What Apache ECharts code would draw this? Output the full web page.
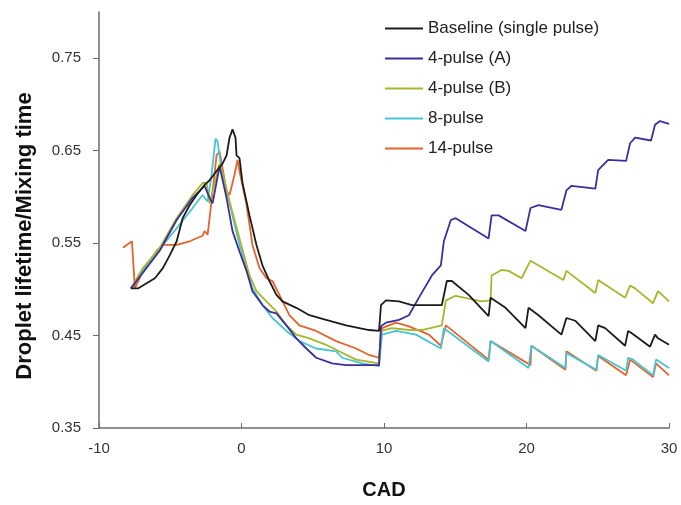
<!DOCTYPE html>
<html>
<head>
<meta charset="utf-8">
<script src="https://cdn.jsdelivr.net/npm/echarts@6/dist/echarts.min.js"></script>
<style>
  html, body { margin: 0; padding: 0; background: #fff; }
  #chart { width: 681px; height: 505px; }
</style>
</head>
<body>
<div id="chart"></div>
<script>
// CAD vs droplet lifetime / mixing time
const xTicks = [-10, 0, 10, 20, 30]
const yTicks = [0.35, 0.45, 0.55, 0.65, 0.75]

const baseline = [
  [-7.76, 0.501], [-7.27, 0.501], [-6.08, 0.512], [-5.52, 0.523], [-5.03, 0.537],
  [-4.55, 0.552], [-4.13, 0.577], [-3.64, 0.591], [-3.15, 0.602], [-2.59, 0.613],
  [-2.24, 0.618], [-1.75, 0.628], [-1.33, 0.636], [-1.05, 0.645], [-0.84, 0.664],
  [-0.63, 0.673], [-0.42, 0.664], [-0.35, 0.645], [-0.14, 0.642], [0.07, 0.615],
  [0.56, 0.580], [1.05, 0.548], [1.47, 0.526], [1.96, 0.509], [2.45, 0.494],
  [2.87, 0.487], [3.85, 0.480], [4.76, 0.472], [5.94, 0.467], [7.34, 0.461],
  [8.95, 0.456], [9.65, 0.455], [9.79, 0.483], [10.14, 0.488], [11.05, 0.487],
  [11.96, 0.483], [14.06, 0.483], [14.41, 0.509], [14.76, 0.509], [15.94, 0.494],
  [17.34, 0.471], [17.48, 0.491], [18.53, 0.480], [19.93, 0.458], [20.14, 0.480],
  [20.84, 0.472], [22.45, 0.451], [22.80, 0.469], [23.43, 0.466], [24.83, 0.444],
  [25.03, 0.461], [25.52, 0.458], [26.92, 0.439], [27.13, 0.455], [27.34, 0.453],
  [28.67, 0.438], [29.02, 0.451], [29.23, 0.447], [30, 0.440]
]

const pulse4A = [
  [-7.76, 0.501], [-5.73, 0.542], [-4.55, 0.575], [-3.43, 0.599], [-2.59, 0.612],
  [-2.24, 0.599], [-2.03, 0.593], [-1.54, 0.633], [-1.40, 0.631], [-1.05, 0.599],
  [-0.63, 0.563], [-0.14, 0.541], [0.35, 0.520], [0.77, 0.498], [1.47, 0.483],
  [1.96, 0.476], [2.45, 0.474], [3.15, 0.461], [3.85, 0.447], [4.55, 0.436],
  [5.24, 0.426], [6.36, 0.420], [7.34, 0.418], [9.65, 0.418], [9.79, 0.460],
  [10.14, 0.464], [11.05, 0.467], [11.75, 0.472], [12.45, 0.491], [13.36, 0.515],
  [13.99, 0.526], [14.20, 0.552], [14.69, 0.575], [15.03, 0.577], [17.34, 0.555],
  [17.55, 0.580], [18.04, 0.580], [19.93, 0.563], [20.28, 0.588], [20.84, 0.591],
  [22.45, 0.586], [22.80, 0.607], [23.15, 0.612], [24.83, 0.609], [25.03, 0.629],
  [25.73, 0.640], [26.99, 0.639], [27.27, 0.658], [27.62, 0.664], [28.74, 0.661],
  [29.02, 0.678], [29.37, 0.682], [30, 0.679]
]

const pulse4B = [
  [-7.76, 0.501], [-6.92, 0.523], [-5.73, 0.545], [-4.55, 0.577], [-3.43, 0.602],
  [-2.73, 0.615], [-2.45, 0.615], [-2.24, 0.593], [-2.03, 0.606], [-1.54, 0.636],
  [-1.33, 0.626], [-0.84, 0.595], [-0.14, 0.555], [0.56, 0.515], [1.05, 0.498],
  [1.75, 0.487], [2.45, 0.476], [3.15, 0.461], [3.85, 0.451], [4.76, 0.447],
  [5.94, 0.440], [6.85, 0.433], [8.04, 0.424], [9.65, 0.420], [9.79, 0.455],
  [10.56, 0.458], [11.75, 0.456], [12.66, 0.456], [14.06, 0.461], [14.34, 0.488],
  [15.03, 0.493], [16.85, 0.487], [17.48, 0.488], [17.55, 0.515], [18.25, 0.521],
  [18.74, 0.520], [19.65, 0.512], [20.28, 0.531], [22.59, 0.510], [22.80, 0.520],
  [24.83, 0.496], [25.03, 0.510], [26.92, 0.491], [27.27, 0.504], [27.62, 0.501],
  [28.88, 0.485], [29.23, 0.498], [30, 0.487]
]

const pulse8 = [
  [-7.76, 0.501], [-6.92, 0.520], [-5.52, 0.548], [-4.55, 0.566], [-3.43, 0.588],
  [-2.73, 0.602], [-2.38, 0.595], [-2.10, 0.624], [-1.82, 0.663], [-1.68, 0.660],
  [-1.40, 0.629], [-1.05, 0.607], [-0.14, 0.548], [0.35, 0.523], [0.77, 0.501],
  [1.47, 0.483], [2.17, 0.469], [3.15, 0.455], [4.06, 0.444], [5.24, 0.436],
  [6.64, 0.433], [7.06, 0.426], [8.46, 0.420], [9.65, 0.417], [9.86, 0.451],
  [10.84, 0.455], [12.24, 0.451], [13.99, 0.436], [14.20, 0.458], [17.34, 0.422],
  [17.48, 0.444], [20.14, 0.415], [20.35, 0.439], [22.73, 0.415], [22.80, 0.431],
  [24.90, 0.413], [25.03, 0.429], [26.99, 0.412], [27.13, 0.426], [27.48, 0.424],
  [28.88, 0.407], [29.09, 0.424], [30, 0.415]
]

const pulse14 = [
  [-8.32, 0.545], [-7.69, 0.552], [-7.48, 0.501], [-6.92, 0.520], [-5.94, 0.542],
  [-5.52, 0.548], [-4.55, 0.548], [-3.64, 0.552], [-2.73, 0.558], [-2.59, 0.563],
  [-2.38, 0.559], [-2.24, 0.577], [-2.03, 0.606], [-1.75, 0.645], [-1.54, 0.649],
  [-1.33, 0.631], [-1.05, 0.606], [-0.84, 0.602], [-0.49, 0.624], [-0.28, 0.640],
  [-0.14, 0.628], [0.35, 0.592], [0.77, 0.548], [1.26, 0.523], [1.75, 0.512],
  [2.17, 0.509], [2.66, 0.494], [3.36, 0.472], [4.06, 0.461], [5.24, 0.455],
  [6.64, 0.444], [8.04, 0.436], [8.95, 0.429], [9.65, 0.426], [9.86, 0.458],
  [10.84, 0.464], [11.75, 0.460], [13.15, 0.451], [13.99, 0.439], [14.34, 0.461],
  [17.34, 0.424], [17.48, 0.444], [20.28, 0.418], [20.35, 0.439], [22.73, 0.413],
  [22.80, 0.433], [24.90, 0.412], [25.03, 0.428], [26.99, 0.407], [27.27, 0.424],
  [28.88, 0.405], [29.09, 0.420], [30, 0.407]
]

const seriesNames = ['Baseline (single pulse)', '4-pulse (A)', '4-pulse (B)', '8-pulse', '14-pulse']
const seriesColors = ['#1c1c1c', '#3b2f9e', '#a9b52c', '#48c4d4', '#e4642c']
const seriesData = [baseline, pulse4A, pulse4B, pulse8, pulse14]

const chart = echarts.init(document.getElementById('chart'))
const axisColor = '#6b6b6b'
const textFont = 'Liberation Sans, Arial, sans-serif'

chart.setOption({
  animation: false,
  backgroundColor: '#fff',
  textStyle: { fontFamily: textFont },
  grid: { left: 99, right: 12, top: 12, bottom: 75 },
  legend: {
    orient: 'vertical',
    left: 380,
    top: 15,
    icon: 'rect',
    itemWidth: 38,
    itemHeight: 2,
    itemGap: 13,
    textStyle: { fontSize: 17, color: '#222', fontFamily: textFont },
    data: seriesNames
  },
  // y title sits a little below the plot centre in the original
  graphic: [{
    type: 'text',
    x: 25,
    y: 236,
    rotation: Math.PI / 2,
    style: {
      text: 'Droplet lifetime/Mixing time',
      fontSize: 22,
      fontWeight: 'bold',
      fontFamily: textFont,
      fill: '#111',
      align: 'center',
      verticalAlign: 'middle'
    }
  }],
  xAxis: {
    type: 'value',
    min: xTicks[0],
    max: xTicks[xTicks.length - 1],
    interval: 10,
    name: 'CAD',
    nameLocation: 'middle',
    nameGap: 52,
    nameTextStyle: { fontSize: 20, fontWeight: 'bold', color: '#111' },
    axisLine: { onZero: false, lineStyle: { color: axisColor, width: 1.5 } },
    axisTick: { inside: true, length: 5, lineStyle: { color: axisColor } },
    axisLabel: { fontSize: 15, color: '#333', margin: 13 },
    splitLine: { show: false }
  },
  yAxis: {
    type: 'value',
    min: yTicks[0],
    max: 0.80,
    interval: 0.1,
    axisLine: { show: true, onZero: false, lineStyle: { color: axisColor, width: 1.5 } },
    axisTick: { show: true, length: 6, lineStyle: { color: axisColor } },
    axisLabel: {
      fontSize: 15,
      color: '#333',
      margin: 18,
      showMaxLabel: false,
      formatter: (v) => (yTicks.some((t) => Math.abs(t - v) < 1e-6) ? v.toFixed(2) : '')
    },
    splitLine: { show: false }
  },
  series: seriesNames.map((name, i) => ({
    name,
    type: 'line',
    data: seriesData[i],
    showSymbol: false,
    symbol: 'none',
    lineStyle: { color: seriesColors[i], width: 1.8 },
    itemStyle: { color: seriesColors[i] },
    z: 10 - i
  }))
})
</script>
</body>
</html>
